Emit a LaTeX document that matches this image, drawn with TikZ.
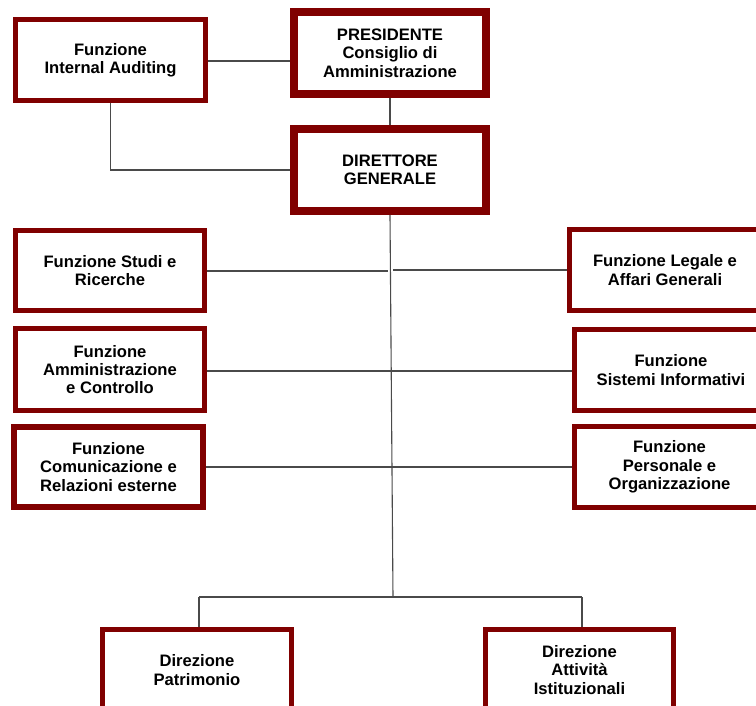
\documentclass[tikz,border=0pt]{standalone}
\usepackage{fontspec}
\setmainfont{Liberation Sans}
\definecolor{boxred}{HTML}{800000}
\definecolor{wire}{HTML}{4A4A4A}
\begin{document}
\begin{tikzpicture}[x=1pt,y=-1pt,
  unit/.style={draw=boxred, fill=white, line width=5pt, inner sep=0pt, align=center,
    font=\fontsize{16.6}{18.4}\selectfont\bfseries},
  topunit/.style={unit, line width=8pt},
  link/.style={draw=wire, line width=1.1pt}]
\path[use as bounding box, clip] (0,0) rectangle (756,706);
\fill[white] (0,0) rectangle (756,706);

% governance boxes
\node[topunit, minimum width=192pt, minimum height=82pt] (pres) at (390,53)
  {PRESIDENTE\\Consiglio di\\Amministrazione};
\node[topunit, minimum width=192pt, minimum height=82pt] (dg) at (390,170)
  {DIRETTORE\\GENERALE};
\node[unit, minimum width=190pt, minimum height=81pt] (ia) at (110.5,60)
  {Funzione\\Internal Auditing};

% staff functions, left column
\node[unit, minimum width=189pt, minimum height=80pt] (studi) at (110,270.5)
  {Funzione Studi e\\Ricerche};
\node[unit, minimum width=189pt, minimum height=82pt] (amm) at (110,369.5)
  {Funzione\\Amministrazione\\e Controllo};
\node[unit, line width=6pt, minimum width=189pt, minimum height=80pt] (com) at (108.5,467)
  {Funzione\\Comunicazione e\\Relazioni esterne};

% staff functions, right column
\node[unit, minimum width=191pt, minimum height=81pt] (leg) at (665,270)
  {Funzione Legale e\\Affari Generali};
\node[unit, minimum width=193pt, minimum height=81pt] (sis) at (671,370)
  {Funzione\\Sistemi Informativi};
\node[unit, minimum width=191pt, minimum height=81pt] (per) at (669.5,467)
  {Funzione\\Personale e\\Organizzazione};

% line directorates
\node[unit, minimum width=189pt, minimum height=81pt] (pat) at (197,670)
  {Direzione\\Patrimonio};
\node[unit, minimum width=188pt, minimum height=81pt] (att) at (579.5,670)
  {Direzione\\Attività\\Istituzionali};

% junction points
\coordinate (spine) at (393,597);
\coordinate (busL) at (199,597);
\coordinate (busR) at (582,597);
\coordinate (gapL) at (388,271);
\coordinate (gapR) at (393,270);

% connectors
\draw[link] (ia.east |- 0,61) -- (pres.west |- 0,61);
\draw[link] (pres.south) -- (dg.north);
\draw[link] (ia.south) |- (dg.west);
\draw[link] (dg.south) -- (spine);
\draw[link] (studi.east |- gapL) -- (gapL);
\draw[link] (gapR) -- (leg.west |- gapR);
\draw[link] (amm.east |- 0,371) -- (sis.west |- 0,371);
\draw[link] (com.east |- 0,467) -- (per.west |- 0,467);
\draw[link] (busL) -- (busR);
\draw[link] (busL) -- (busL |- pat.north);
\draw[link] (busR) -- (busR |- att.north);
\end{tikzpicture}
\end{document}
